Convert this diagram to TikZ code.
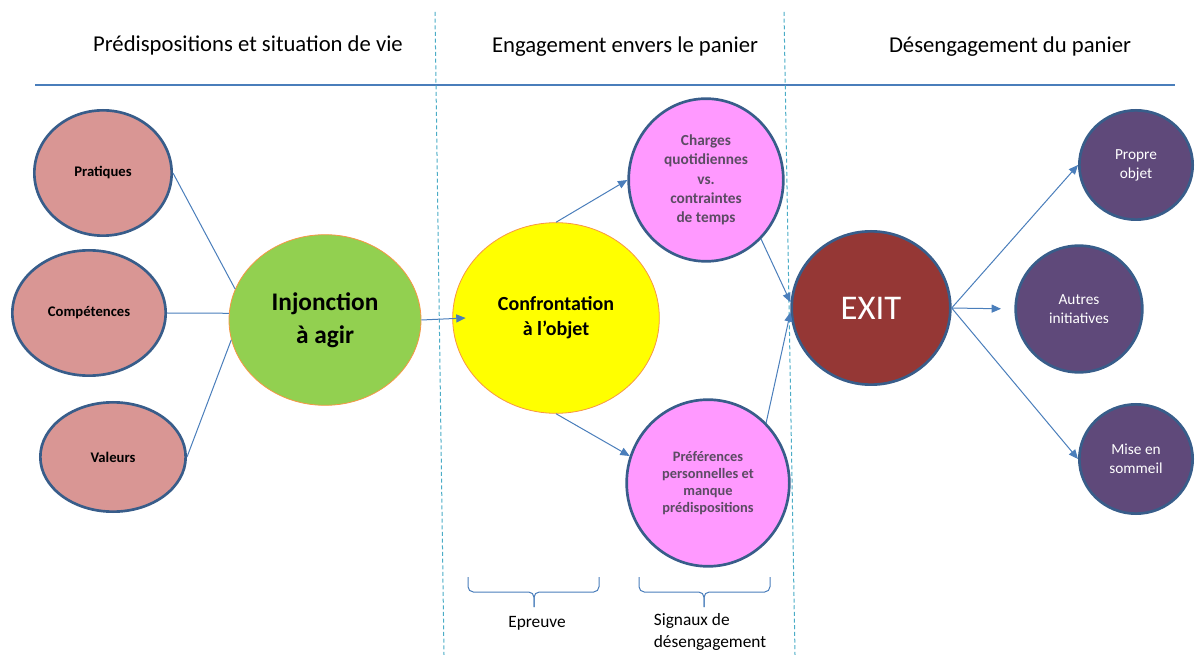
\documentclass[tikz,border=0pt]{standalone}
\usepackage{fontspec}
\setmainfont{Carlito}
\usepackage{tikz}
\usetikzlibrary{positioning}
\usetikzlibrary{shapes.geometric}
\usetikzlibrary {arrows.meta}

\definecolor{rosefill}{HTML}{D99694}
\definecolor{injgreen}{HTML}{92D050}
\definecolor{confyellow}{HTML}{FFFF00}
\definecolor{pinkfill}{HTML}{FF99FF}
\definecolor{exitred}{HTML}{953735}
\definecolor{purplefill}{HTML}{5F497A}
\definecolor{borderblue}{HTML}{385D8A}
\definecolor{orangeline}{HTML}{F79646}
\definecolor{linkblue}{HTML}{4A7EBB}
\definecolor{sepblue}{HTML}{4BACC6}
\definecolor{pinktext}{HTML}{5B4B63}

\tikzset{
  bubble/.style={ellipse, inner sep=0pt, align=center},
  rosebub/.style={bubble, draw=borderblue, line width=2pt, fill=rosefill,
    font=\bfseries\fontsize{11}{13}\selectfont},
  orangebub/.style={bubble, draw=orangeline, line width=0.6pt},
  pinkbub/.style={bubble, draw=borderblue, line width=2pt, fill=pinkfill, text=pinktext},
  purplebub/.style={bubble, draw=borderblue, line width=2pt, fill=purplefill, text=white,
    font=\fontsize{11.5}{14.3}\selectfont},
  header/.style={font=\fontsize{17}{20}\selectfont},
  link/.style={draw=linkblue, line width=0.75pt},
  arr/.style={link, -{Triangle[length=7pt,width=6pt]}},
  sep/.style={draw=sepblue, line width=0.75pt, dash pattern=on 3pt off 2pt},
  bracket/.style={draw=linkblue, line width=0.75pt, rounded corners=4pt},
  note/.style={font=\fontsize{13}{16}\selectfont, align=left}
}

\begin{document}
\begin{tikzpicture}[x=0.75pt, y=-0.75pt]
\useasboundingbox (0,0) rectangle (1195,655);

\node[header] (h1) at (248,45) {Prédispositions et situation de vie};
\node[header] (h2) at (625,47) {Engagement envers le panier};
\node[header] (h3) at (1010,47) {Désengagement du panier};

\draw[draw=linkblue, line width=1.5pt] (35,85) -- (1175,85);
\draw[sep] (435,12) -- (444,655);
\draw[sep] (784,12) -- (795,655);

\node[rosebub, minimum width=103pt, minimum height=94pt] (prat) at (103,173) {Pratiques};
\node[rosebub, minimum width=115pt, minimum height=94pt] (comp) at (89,313) {Compétences};
\node[rosebub, minimum width=109pt, minimum height=82pt] (val) at (113,457) {Valeurs};

\node[orangebub, fill=injgreen, minimum width=144pt, minimum height=128pt,
  font=\bfseries\fontsize{19}{24.5}\selectfont] (inj) at (325,320) {Injonction\\à agir};
\node[orangebub, fill=confyellow, minimum width=155pt, minimum height=143pt,
  font=\bfseries\fontsize{15}{18.8}\selectfont] (conf) at (556,318) {Confrontation\\à l’objet};

\node[pinkbub, minimum width=116pt, minimum height=122pt,
  font=\bfseries\fontsize{11.5}{14.5}\selectfont] (charg) at (706,180)
  {Charges\\quotidiennes\\vs.\\contraintes\\de temps};
\node[pinkbub, minimum width=122pt, minimum height=125pt,
  font=\bfseries\fontsize{10.8}{12.8}\selectfont] (pref) at (708,483)
  {Préférences\\personnelles et\\manque\\prédispositions};

\node[bubble, draw=borderblue, line width=2pt, fill=exitred, text=white,
  minimum width=119pt, minimum height=115pt,
  font=\fontsize{26}{30}\selectfont] (exit) at (871,308) {EXIT};

\node[purplebub, minimum width=85pt, minimum height=82pt] (propre) at (1136,165) {Propre\\objet};
\node[purplebub, minimum width=95pt, minimum height=95pt] (autres) at (1079,309) {Autres\\initiatives};
\node[purplebub, minimum width=85pt, minimum height=82pt] (mise) at (1136,459) {Mise en\\sommeil};

\draw[link] (prat.east) -- (inj.161);
\draw[link] (comp.east) -- (inj.176);
\draw[link] (val.east) -- (inj.192);

\draw[arr] (inj.east) -- ([xshift=10pt]conf.west);
\draw[arr] (conf.north) -- (charg.west);
\draw[arr] (conf.south) -- (pref.161);
\draw[arr] (charg.-47) -- (exit.176);
\draw[arr] (pref.46) -- (exit.183);
\draw[arr] (exit.east) -- (propre.west);
\draw[arr, shorten >=10pt] (exit.east) -- (autres.west);
\draw[arr] (exit.east) -- (mise.west);

\coordinate (ep1) at (468,577);
\coordinate (ep2) at (599,577);
\coordinate (epm) at (534,592);
\coordinate (ept) at (534,607);
\coordinate (sg1) at (639,577);
\coordinate (sg2) at (770,577);
\coordinate (sgm) at (704,592);
\coordinate (sgt) at (704,607);
\draw[bracket] (ep1) |- (epm) -- (ept);
\draw[bracket] (ep2) |- (epm) -- (ept);
\draw[bracket] (sg1) |- (sgm) -- (sgt);
\draw[bracket] (sg2) |- (sgm) -- (sgt);

\node[note] (epreuve) at (537,623) {Epreuve};
\node[note] (signaux) at (710,632) {Signaux de\\désengagement};

\end{tikzpicture}
\end{document}
